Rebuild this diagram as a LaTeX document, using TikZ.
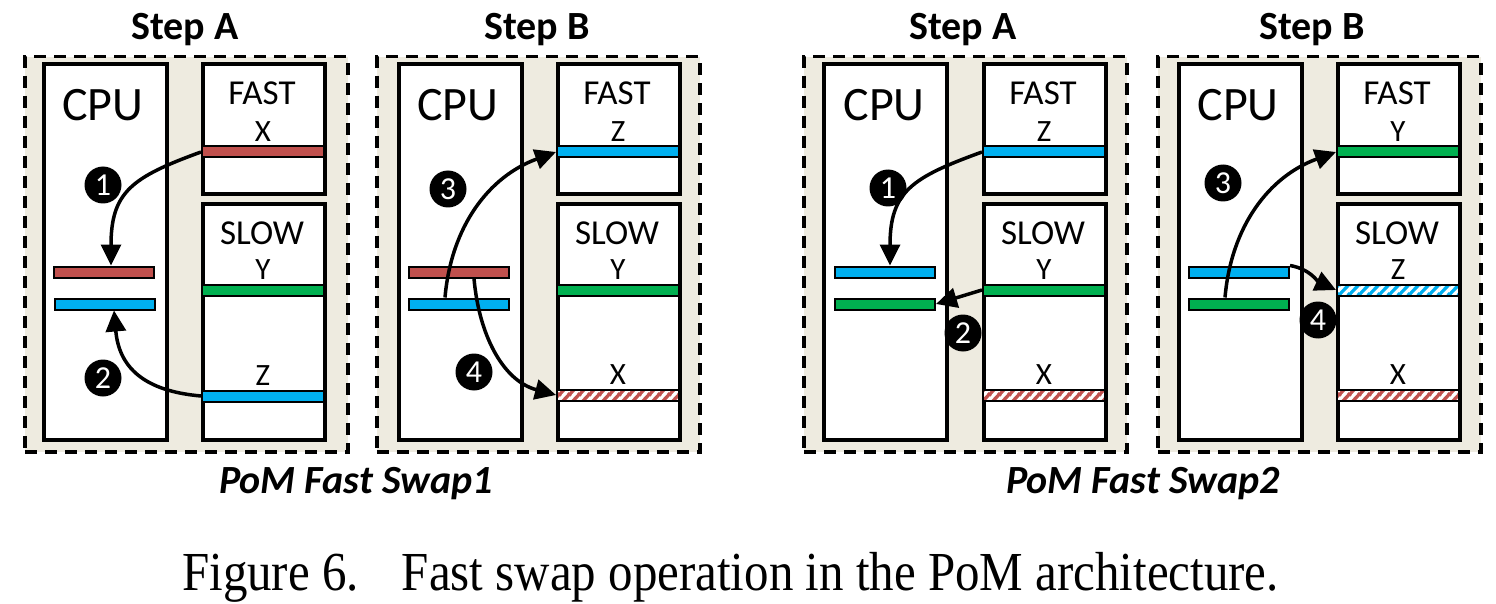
\documentclass[tikz,border=0pt]{standalone}
\usepackage{fontspec}
\setmainfont{Carlito}
\newfontfamily\capfont[FakeStretch=0.89]{Liberation Serif}
\usetikzlibrary{positioning}
\usetikzlibrary{arrows.meta}
\usetikzlibrary{patterns.meta}
\definecolor{panelbg}{HTML}{EEEBE0}
\definecolor{linered}{HTML}{C0504D}
\definecolor{linegreen}{HTML}{00B050}
\definecolor{lineblue}{HTML}{00B0F0}
\newcommand{\cpufont}{\fontsize{48}{48}\selectfont}
\newcommand{\memfont}{\fontsize{35}{35}\selectfont}
\newcommand{\tagfont}{\fontsize{31}{31}\selectfont}
\newcommand{\stepfont}{\fontsize{40}{40}\selectfont\bfseries}
\newcommand{\swapfont}{\fontsize{40}{40}\selectfont\bfseries\itshape}
\newcommand{\numfont}{\fontsize{32}{32}\selectfont}
\tikzdeclarepattern{
  name=widestripes,
  type=uncolored,
  bounding box={(0pt,0pt) and (10pt,10pt)},
  tile size={(10pt,10pt)},
  code={
    \draw[line width=3.5pt] (-1pt,-1pt) -- (11pt,11pt);
    \draw[line width=3.5pt] (-1pt,9pt) -- (1pt,11pt);
    \draw[line width=3.5pt] (9pt,-1pt) -- (11pt,1pt);
  }
}
\tikzstyle{panel}=[draw, fill=panelbg, line width=3.5pt, dash pattern=on 12pt off 8pt, minimum width=323pt, minimum height=395pt, anchor=north west, inner sep=0]
\tikzstyle{memunit}=[draw, fill=white, line width=4pt, anchor=north west, inner sep=0, minimum width=122pt]
\tikzstyle{cpuunit}=[memunit, minimum width=123pt, minimum height=376pt]
\tikzstyle{cacheline}=[draw, line width=2pt, minimum width=122pt, minimum height=11pt, inner sep=0, anchor=west]
\tikzstyle{held}=[draw, line width=2pt, minimum width=100pt, minimum height=11pt, inner sep=0]
\tikzstyle{stale}=[cacheline, preaction={fill=white}, pattern=widestripes]
\tikzstyle{nametag}=[font=\tagfont, inner sep=0]
\tikzstyle{stepnum}=[circle, fill=black, text=white, minimum size=37pt, inner sep=0, font=\numfont]
\tikzstyle{move}=[-{Triangle[length=21pt,width=20pt]}, line width=3.5pt]

\begin{document}
\begin{tikzpicture}[x=1pt, y=1pt]
  \useasboundingbox (0,0) rectangle (1496,-604);

  % swap 1, step A
  \node[panel] (panA) at (23,-55) {};
  \node[font=\stepfont, anchor=base] (titA) at (185,-40) {Step A};
  \node[cpuunit] (cpuA) at (42,-62) {};
  \node[font=\cpufont] (cpuAtxt) at (103,-105) {CPU};
  \node[memunit, minimum height=130pt] (fastA) at (201,-62) {};
  \node[font=\memfont] (fastAtxt) at (262,-93) {FAST};
  \node[memunit, minimum height=236pt] (slowA) at (201,-202) {};
  \node[font=\memfont] (slowAtxt) at (262,-233) {SLOW};

  \node[cacheline, fill=linered] (xA) at (fastA.west |- 0,-152) {};
  \node[nametag, above=4pt of xA] {X};
  \node[cacheline, fill=linegreen] (yA) at (slowA.west |- 0,-290) {};
  \node[nametag, above=4pt of yA] {Y};
  \node[cacheline, fill=lineblue] (zA) at (slowA.west |- 0,-396) {};
  \node[nametag, above=4pt of zA] {Z};
  \node[held, fill=linered] (cxA) at (104,-272) {};
  \node[held, fill=lineblue] (czA) at (105,-304) {};

  \draw[move] (xA.west) to[out=200, in=90, looseness=1.3] ([xshift=7pt]cxA.north);
  \draw[move] (zA.west) to[out=175, in=-85, looseness=1.2] ([xshift=9pt]czA.south);
  \node[stepnum] (n1A) at (103,-185) {1};
  \node[stepnum] (n2A) at (103,-378) {2};

  % swap 1, step B
  \node[panel] (panB) at (375,-55) {};
  \node[font=\stepfont, anchor=base] (titB) at (537,-40) {Step B};
  \node[cpuunit] (cpuB) at (397,-62) {};
  \node[font=\cpufont] (cpuBtxt) at (458,-105) {CPU};
  \node[memunit, minimum height=130pt] (fastB) at (556,-62) {};
  \node[font=\memfont] (fastBtxt) at (617,-93) {FAST};
  \node[memunit, minimum height=236pt] (slowB) at (556,-202) {};
  \node[font=\memfont] (slowBtxt) at (617,-233) {SLOW};

  \node[cacheline, fill=lineblue] (zB) at (fastB.west |- 0,-152) {};
  \node[nametag, above=4pt of zB] {Z};
  \node[cacheline, fill=linegreen] (yB) at (slowB.west |- 0,-290) {};
  \node[nametag, above=4pt of yB] {Y};
  \node[stale, pattern color=linered] (xB) at (slowB.west |- 0,-395) {};
  \node[nametag, above=4pt of xB] {X};
  \node[held, fill=linered] (cxB) at (459,-272) {};
  \node[held, fill=lineblue] (czB) at (459,-304) {};

  \draw[move] ([xshift=-14pt]czB.north) to[out=85, in=200] (zB.west);
  \draw[move] ([xshift=15pt]cxB.south) to[out=-85, in=165] (xB.west);
  \node[stepnum] (n3B) at (448,-189) {3};
  \node[stepnum] (n4B) at (474,-372) {4};

  % swap 2, step A
  \node[panel] (panC) at (802,-55) {};
  \node[font=\stepfont, anchor=base] (titC) at (963,-40) {Step A};
  \node[cpuunit] (cpuC) at (822,-62) {};
  \node[font=\cpufont] (cpuCtxt) at (884,-105) {CPU};
  \node[memunit, minimum height=130pt] (fastC) at (982,-62) {};
  \node[font=\memfont] (fastCtxt) at (1043,-93) {FAST};
  \node[memunit, minimum height=236pt] (slowC) at (982,-202) {};
  \node[font=\memfont] (slowCtxt) at (1043,-233) {SLOW};

  \node[cacheline, fill=lineblue] (zC) at (fastC.west |- 0,-152) {};
  \node[nametag, above=4pt of zC] {Z};
  \node[cacheline, fill=linegreen] (yC) at (slowC.west |- 0,-290) {};
  \node[nametag, above=4pt of yC] {Y};
  \node[stale, pattern color=linered] (xC) at (slowC.west |- 0,-395) {};
  \node[nametag, above=4pt of xC] {X};
  \node[held, fill=lineblue] (czC) at (885,-272) {};
  \node[held, fill=linegreen] (cyC) at (885,-304) {};

  \draw[move] (zC.west) to[out=200, in=90, looseness=1.3] ([xshift=5pt]czC.north);
  \draw[move] (yC.west) -- (cyC.east);
  \node[stepnum] (n1C) at (888,-188) {1};
  \node[stepnum] (n2C) at (963,-333) {2};

  % swap 2, step B
  \node[panel] (panD) at (1156,-55) {};
  \node[font=\stepfont, anchor=base] (titD) at (1312,-40) {Step B};
  \node[cpuunit] (cpuD) at (1177,-62) {};
  \node[font=\cpufont] (cpuDtxt) at (1238,-105) {CPU};
  \node[memunit, minimum height=130pt] (fastD) at (1336,-62) {};
  \node[font=\memfont] (fastDtxt) at (1397,-93) {FAST};
  \node[memunit, minimum height=236pt] (slowD) at (1336,-202) {};
  \node[font=\memfont] (slowDtxt) at (1397,-233) {SLOW};

  \node[cacheline, fill=linegreen] (yD) at (fastD.west |- 0,-152) {};
  \node[nametag, above=4pt of yD] {Y};
  \node[stale, pattern color=lineblue] (zD) at (slowD.west |- 0,-290) {};
  \node[nametag, above=4pt of zD] {Z};
  \node[stale, pattern color=linered] (xD) at (slowD.west |- 0,-395) {};
  \node[nametag, above=4pt of xD] {X};
  \node[held, fill=lineblue] (czD) at (1239,-272) {};
  \node[held, fill=linegreen] (cyD) at (1239,-304) {};

  \draw[move] ([xshift=-14pt]cyD.north) to[out=85, in=200] (yD.west);
  \draw[move] (czD.north east) to[out=-10, in=155] (zD.west);
  \node[stepnum] (n3D) at (1223,-183) {3};
  \node[stepnum] (n4D) at (1318,-320) {4};

  % captions
  \node[font=\swapfont, anchor=base] (swap1) at (356,-493) {PoM Fast Swap1};
  \node[font=\swapfont, anchor=base] (swap2) at (1143,-493) {PoM Fast Swap2};
  \node[font=\capfont\fontsize{55}{55}\selectfont, anchor=base west, inner sep=0] (fig) at (182,-590)
    {Figure 6.\hspace{43pt}Fast swap operation in the PoM architecture.};
\end{tikzpicture}
\end{document}
